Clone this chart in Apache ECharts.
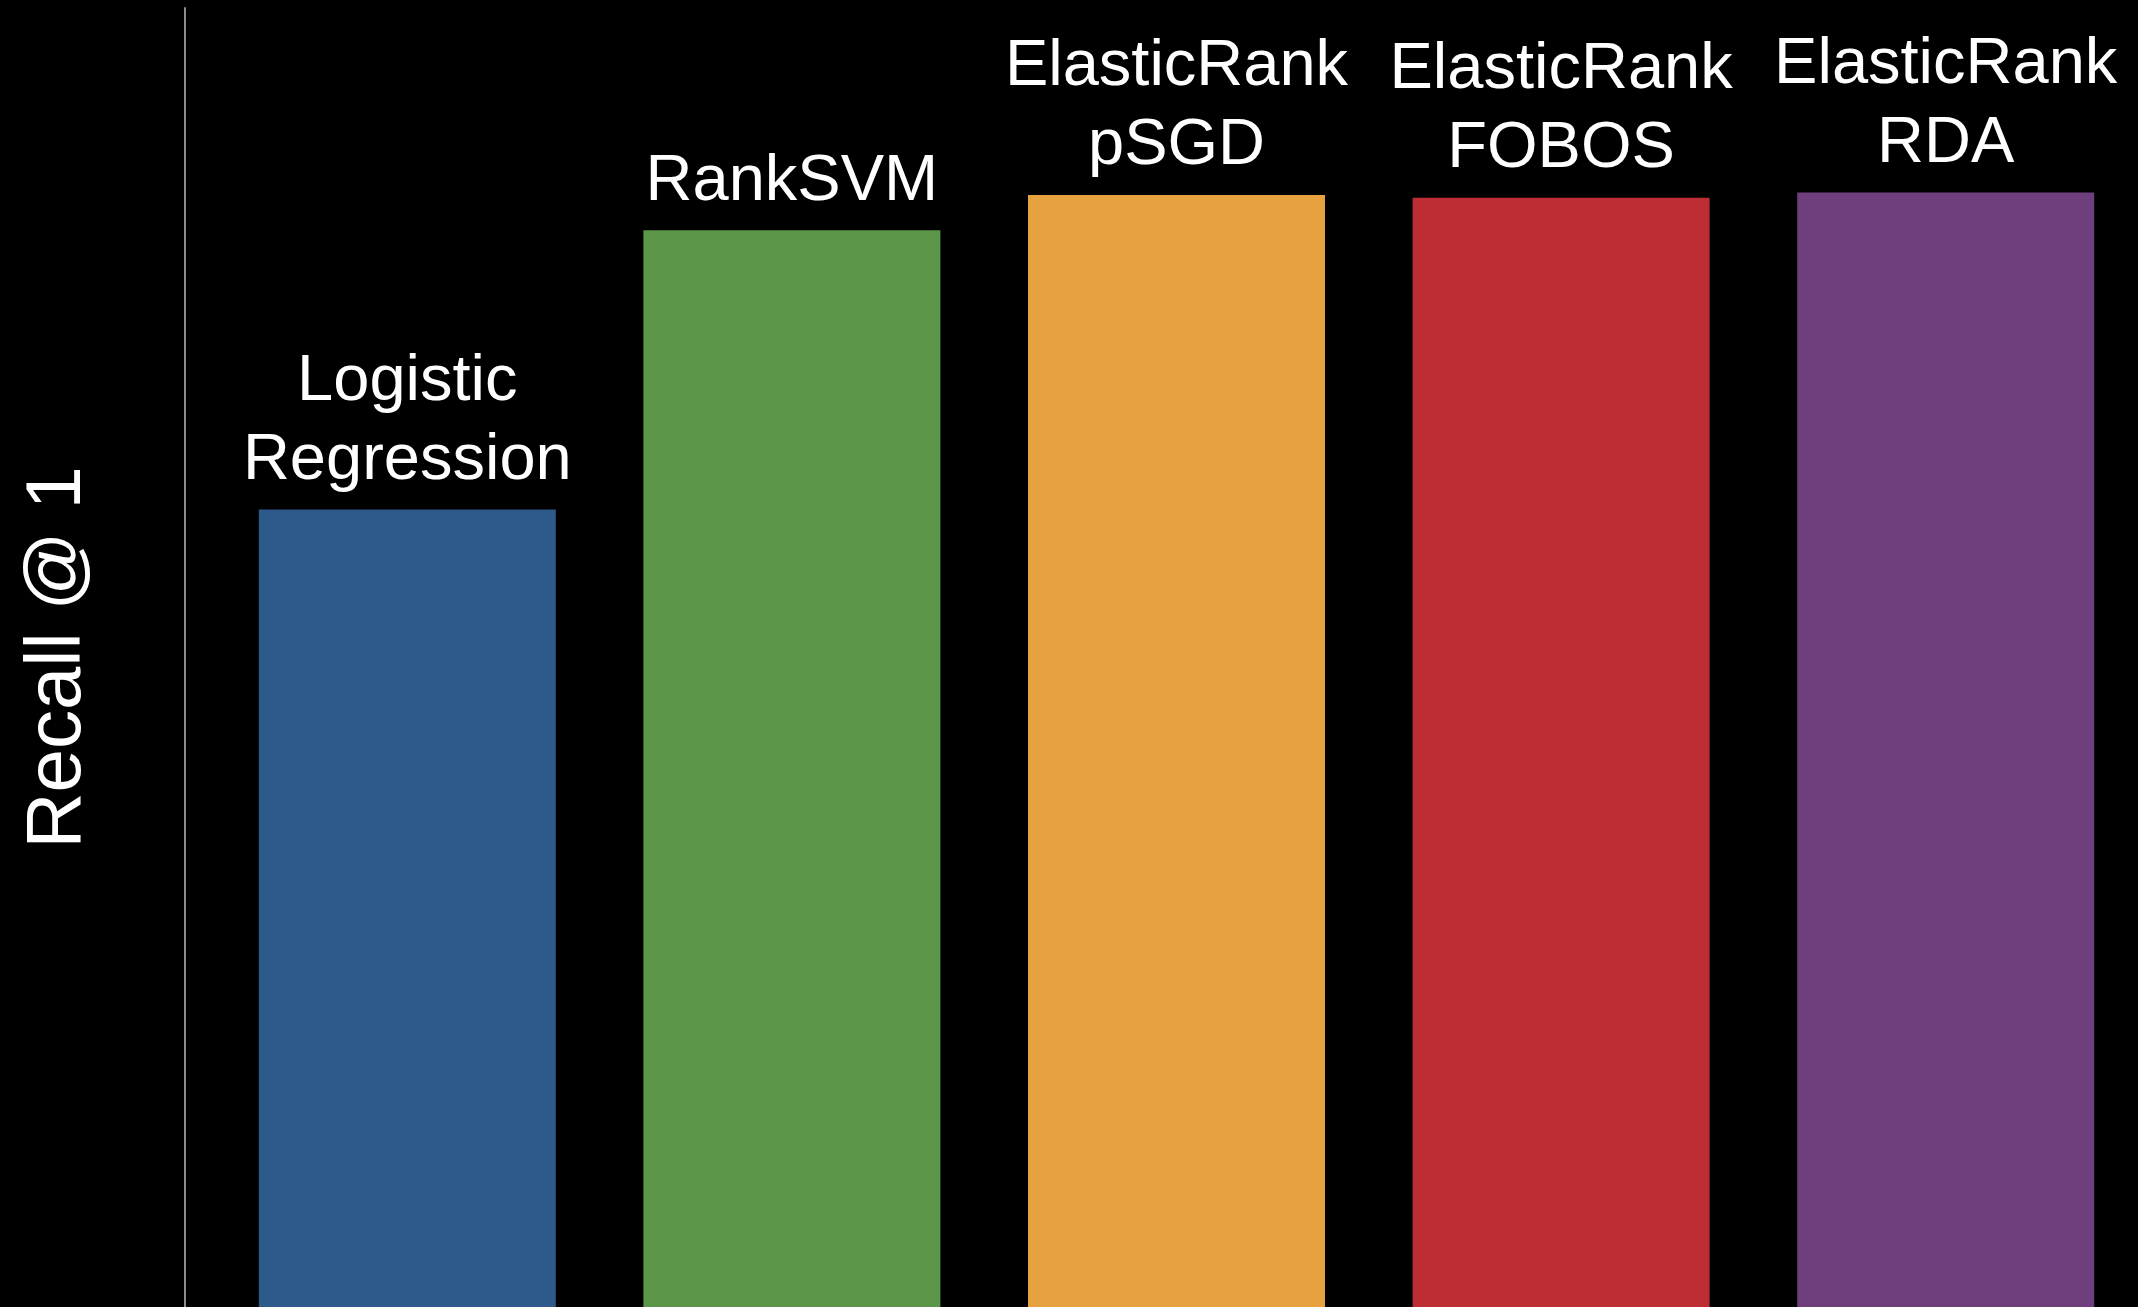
<!DOCTYPE html>
<html>
<head>
<meta charset="utf-8">
<title>Recall @ 1</title>
<script src="https://cdn.jsdelivr.net/npm/echarts@6/dist/echarts.min.js"></script>
<style>
  html, body { margin: 0; padding: 0; background: #000; }
  #chart { width: 2138px; height: 1307px; }
</style>
</head>
<body>
<div id="chart"></div>
<script>
// Methods compared, one bar each
const categories = [
  'Logistic\nRegression',
  'RankSVM',
  'ElasticRank\npSGD',
  'ElasticRank\nFOBOS',
  'ElasticRank\nRDA'
];
// Recall @ 1 for each method
const recallValues = [0.614, 0.829, 0.856, 0.854, 0.858];
// Bar fill per method
const barColors = ['#2E5A8B', '#5C9749', '#E6A23E', '#BD2D33', '#6F3E7C'];

const chart = echarts.init(document.getElementById('chart'), null, { renderer: 'canvas' });

chart.setOption({
  backgroundColor: '#000000',
  animation: false,
  grid: { left: 215, right: 0, top: 8, bottom: 0, containLabel: false },
  xAxis: {
    type: 'category',
    data: categories,
    show: false
  },
  yAxis: {
    type: 'value',
    min: 0,
    max: 1,
    offset: 30,
    name: 'Recall @ 1',
    nameLocation: 'middle',
    nameGap: 88,
    nameTextStyle: {
      color: '#ffffff',
      fontFamily: 'Liberation Sans',
      fontSize: 78,
      fontWeight: 'normal'
    },
    axisLine: { show: true, lineStyle: { color: '#8c8c8c', width: 2 } },
    axisTick: { show: false },
    axisLabel: { show: false },
    splitLine: { show: false }
  },
  series: [{
    type: 'bar',
    barWidth: 297,
    data: recallValues.map((v, i) => ({ value: v, itemStyle: { color: barColors[i] } })),
    label: {
      show: true,
      position: 'top',
      distance: 9,
      formatter: '{b}',
      color: '#ffffff',
      fontFamily: 'Liberation Sans',
      fontSize: 65,
      lineHeight: 79,
      align: 'center'
    }
  }]
});
</script>
</body>
</html>
